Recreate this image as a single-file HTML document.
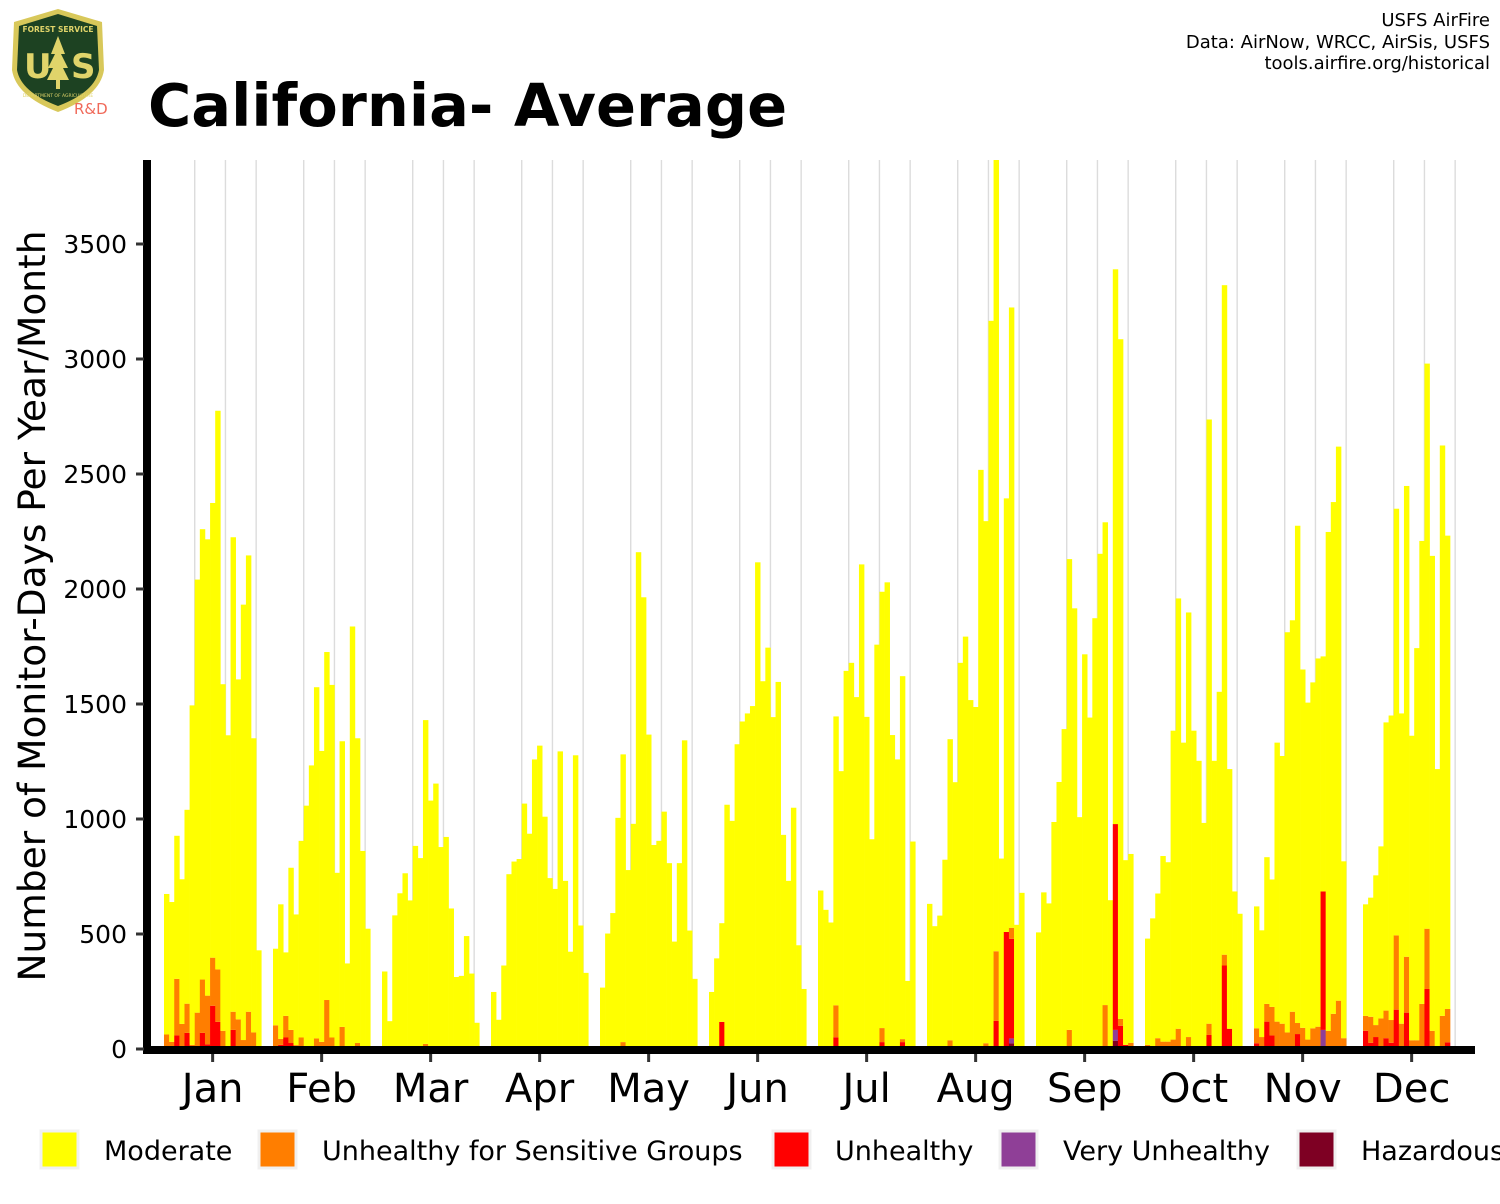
<!DOCTYPE html>
<html><head><meta charset="utf-8">
<style>
html,body{margin:0;padding:0;background:#fff;}
body{width:1500px;height:1200px;overflow:hidden;font-family:"DejaVu Sans","Liberation Sans",sans-serif;}
svg text{font-family:"DejaVu Sans","Liberation Sans",sans-serif;}
</style></head>
<body>
<svg id="chart" width="1500" height="1200" viewBox="0 0 1500 1200" xmlns="http://www.w3.org/2000/svg">
  <defs><clipPath id="plotclip"><rect x="151" y="160" width="1330" height="890"/></clipPath></defs>
  <g>
    <path d="M14 22 L58 9 L102 22 L104 70 Q100 96 58 112 Q16 96 12 70 Z" fill="#d8c85a"/>
    <path d="M19 26 L58 14 L97 26 L99 70 Q95 92 58 106 Q21 92 17 70 Z" fill="#1d4222"/>
    <text x="58" y="32" font-size="7.5" fill="#e0d46a" text-anchor="middle" font-weight="bold">FOREST SERVICE</text>
    <text x="24" y="78" font-size="34" fill="#e0d46a" font-weight="bold">U</text>
    <text x="71" y="78" font-size="34" fill="#e0d46a" font-weight="bold">S</text>
    <path d="M58 36 L51 54 L55 54 L48 68 L53 68 L47 80 L69 80 L63 68 L68 68 L61 54 L65 54 Z" fill="#e0d46a"/>
    <rect x="56" y="80" width="4" height="9" fill="#e0d46a"/>
    <text x="58" y="97" font-size="4.5" fill="#e0d46a" text-anchor="middle">DEPARTMENT OF AGRICULTURE</text>
  </g>
  <text x="74" y="114" font-size="15" fill="#f06a5a">R&amp;D</text>
  <text x="148" y="126" font-size="59" font-weight="bold" fill="#000">California- Average</text>
  <g font-size="18" fill="#000" text-anchor="end">
    <text x="1490" y="26">USFS AirFire</text>
    <text x="1490" y="48">Data: AirNow, WRCC, AirSis, USFS</text>
    <text x="1490" y="69">tools.airfire.org/historical</text>
  </g>
  <g id="grid"></g>
  <g id="bars" clip-path="url(#plotclip)"></g>
  <rect x="143" y="160" width="8" height="894" fill="#000"/>
  <rect x="143" y="1046" width="1332" height="8" fill="#000"/>
  <g id="yaxis"></g>
  <g id="xaxis"></g>
  <text transform="translate(45,606) rotate(-90)" font-size="37.5" text-anchor="middle" fill="#000">Number of Monitor-Days Per Year/Month</text>
  <g font-size="27" fill="#000">
    <g><rect x="41" y="1131" width="37" height="37" fill="#ffff00" stroke="#f0f0f0" stroke-width="3"/><text x="104" y="1160">Moderate</text></g>
    <g><rect x="259" y="1131" width="37" height="37" fill="#ff7e00" stroke="#f0f0f0" stroke-width="3"/><text x="322" y="1160">Unhealthy for Sensitive Groups</text></g>
    <g><rect x="773" y="1131" width="37" height="37" fill="#ff0000" stroke="#f0f0f0" stroke-width="3"/><text x="835" y="1160">Unhealthy</text></g>
    <g><rect x="1000" y="1131" width="37" height="37" fill="#8f3f97" stroke="#f0f0f0" stroke-width="3"/><text x="1063" y="1160">Very Unhealthy</text></g>
    <g><rect x="1298" y="1131" width="37" height="37" fill="#7e0023" stroke="#f0f0f0" stroke-width="3"/><text x="1361" y="1160">Hazardous</text></g>
  </g>
</svg>
<script>
const months = ["Jan","Feb","Mar","Apr","May","Jun","Jul","Aug","Sep","Oct","Nov","Dec"];
const yTicks = [0,500,1000,1500,2000,2500,3000,3500];
const moderate = [
 [611,608,622,629,843,1476,1883,1958,1984,1977,2429,1507,1351,2063,1478,1893,1984,1279,429],
 [333,585,276,705,568,855,1045,1220,1527,1265,1513,1533,753,1242,372,1837,1325,848,523],
 [324,121,568,677,751,646,883,830,1408,1080,1154,878,922,611,313,318,491,328,114],
 [248,127,363,760,815,826,1067,931,1259,1319,1010,743,696,1294,731,423,1277,537,331],
 [267,502,591,1005,1251,778,979,2160,1964,1367,887,905,1032,808,467,808,1342,515,305],
 [248,394,429,1062,992,1325,1424,1459,1491,2116,1599,1745,1443,1596,931,731,1049,451,261],
 [689,605,550,1256,1208,1631,1679,1530,2107,1444,912,1758,1897,2029,1365,1246,1578,296,902],
 [631,534,580,823,1309,1160,1674,1788,1517,1487,2518,2270,3153,3445,828,1885,2697,540,679],
 [507,681,624,987,1161,1391,2047,1916,1008,1716,1436,1873,2153,2099,647,2412,2955,803,821],
 [462,568,629,807,780,1343,1871,1332,1846,1384,1253,983,2627,1253,1553,2911,1129,685,588],
 [530,464,638,554,1213,1164,1740,1702,2162,1558,1465,1504,1601,1022,2169,2225,2409,769],
 [485,518,651,748,1253,1324,1855,1349,2047,1324,1705,2013,2457,2065,1217,2480,2058]
];
const usg = [
 [63,31,246,109,127,18,158,232,212,209,228,79,13,79,129,39,162,72,0],
 [103,26,94,57,17,50,13,13,46,31,213,50,13,96,0,0,26,13,0],
 [13,0,13,0,13,0,0,0,22,0,0,0,0,0,0,0,0,0,0],
 [0,0,0,0,0,0,0,5,0,0,0,0,0,0,0,0,0,0,0],
 [0,0,0,0,30,0,0,0,0,0,0,0,0,0,0,0,0,0,0],
 [0,0,0,0,0,0,0,0,0,0,0,0,0,0,0,0,0,0,0],
 [0,0,0,139,0,13,0,0,0,0,0,0,61,0,0,13,13,0,0],
 [0,0,0,0,38,0,5,5,0,0,0,25,13,303,0,0,48,0,0],
 [0,0,9,0,0,0,83,0,0,0,5,0,0,191,0,0,30,0,27],
 [18,0,47,32,32,41,88,0,52,0,0,0,49,0,0,47,0,0,0],
 [65,52,77,124,119,110,72,162,48,92,41,90,97,0,79,153,210,47],
 [65,113,52,133,120,99,323,110,243,38,38,196,262,79,0,144,145]
];
const unhealthy = [
 [0,0,59,0,70,0,0,70,20,188,118,0,0,83,0,0,0,0,0],
 [0,18,50,26,0,0,0,0,0,0,0,0,0,0,0,0,0,0,0],
 [0,0,0,0,0,0,0,0,0,0,0,0,0,0,0,0,0,0,0],
 [0,0,0,0,0,0,0,0,0,0,0,0,0,0,0,0,0,0,0],
 [0,0,0,0,0,0,0,0,0,0,0,0,0,0,0,0,0,0,0],
 [0,0,118,0,0,0,0,0,0,0,0,0,0,0,0,0,0,0,0],
 [0,0,0,51,0,0,0,0,0,0,0,0,30,0,0,0,30,0,0],
 [0,0,0,0,0,0,0,0,0,0,0,0,0,122,0,509,433,0,0],
 [0,0,0,0,0,0,0,0,0,0,0,0,0,0,0,895,101,18,0],
 [0,0,0,0,0,0,0,0,0,0,0,0,61,0,0,363,88,0,0],
 [25,0,119,59,0,0,0,0,65,0,0,0,0,602,0,0,0,0],
 [79,27,52,0,47,27,171,0,158,0,0,0,261,0,0,0,29]
];
const veryUnhealthy = [
 [],[],[],[],[],[],[],
 [0,0,0,0,0,0,0,0,0,0,0,0,0,0,0,0,21,0,0],
 [0,0,0,0,0,0,0,0,0,0,0,0,0,0,0,47,0,0,0],
 [],
 [0,0,0,0,0,0,0,0,0,0,0,0,0,83,0,0,0,0],
 []
];
const hazardous = [
 [],[],[],[],[],[],[],
 [0,0,0,0,0,0,0,0,0,0,0,0,0,0,0,0,25,0,0],
 [0,0,0,0,0,0,0,0,0,0,0,0,0,0,0,36,0,0,0],
 [],[],[]
];

const NS = "http://www.w3.org/2000/svg";
const X0 = 164, MONTH_W = 109, BW = 5.12;
const Y0 = 1049, SCALE = 0.23;
function yScale(v){ return Y0 - v*SCALE; }
function monthStart(m){ return X0 + m*MONTH_W; }
function barX(m,i){ return monthStart(m) + i*BW; }

const grid = document.getElementById('grid');
const bars = document.getElementById('bars');
const yaxis = document.getElementById('yaxis');
const xaxis = document.getElementById('xaxis');

for (let m=0;m<12;m++){
  for (let k=1;k<=3;k++){
    const gx = barX(m,6*k);
    const l = document.createElementNS(NS,'line');
    l.setAttribute('x1',gx); l.setAttribute('x2',gx);
    l.setAttribute('y1',160); l.setAttribute('y2',1046);
    l.setAttribute('stroke','#dcdcdc'); l.setAttribute('stroke-width','1.4');
    
    
    grid.appendChild(l);
  }
}

const series = [
  {arr:hazardous, color:'#7e0023', name:'bar-hazardous'},
  {arr:veryUnhealthy, color:'#8f3f97', name:'bar-very-unhealthy'},
  {arr:unhealthy, color:'#ff0000', name:'bar-unhealthy'},
  {arr:usg, color:'#ff7e00', name:'bar-usg'},
  {arr:moderate, color:'#ffff00', name:'bar-moderate'}
];
for (let m=0;m<12;m++){
  const n = moderate[m].length;
  for (let i=0;i<n;i++){
    let base = 0;
    for (const s of series){
      const v = (s.arr[m] && s.arr[m][i]) || 0;
      if (v <= 0) continue;
      const r = document.createElementNS(NS,'rect');
      const yTop = yScale(base+v), yBot = yScale(base);
      r.setAttribute('x', barX(m,i));
      r.setAttribute('width', BW+0.3);
      r.setAttribute('y', yTop);
      r.setAttribute('height', yBot-yTop);
      r.setAttribute('fill', s.color);
      
      
      bars.appendChild(r);
      base += v;
    }
  }
}

for (const t of yTicks){
  const y = yScale(t);
  const tk = document.createElementNS(NS,'rect');
  tk.setAttribute('x',136); tk.setAttribute('y',y-1.5); tk.setAttribute('width',8); tk.setAttribute('height',3);
  tk.setAttribute('fill','#333');
  
  
  yaxis.appendChild(tk);
  const tx = document.createElementNS(NS,'text');
  tx.setAttribute('x',127); tx.setAttribute('y',y+9);
  tx.setAttribute('text-anchor','end'); tx.setAttribute('font-size','25');
  tx.textContent = t;
  
  
  yaxis.appendChild(tx);
}

for (let m=0;m<12;m++){
  const cx = monthStart(m) + 9.5*BW;
  const tk = document.createElementNS(NS,'rect');
  tk.setAttribute('x',cx-1.5); tk.setAttribute('y',1054); tk.setAttribute('width',3); tk.setAttribute('height',8);
  tk.setAttribute('fill','#333');
  
  
  xaxis.appendChild(tk);
  const tx = document.createElementNS(NS,'text');
  tx.setAttribute('x',cx); tx.setAttribute('y',1102);
  tx.setAttribute('text-anchor','middle'); tx.setAttribute('font-size','40');
  tx.textContent = months[m];
  
  
  xaxis.appendChild(tx);
}
</script>
</body></html>
